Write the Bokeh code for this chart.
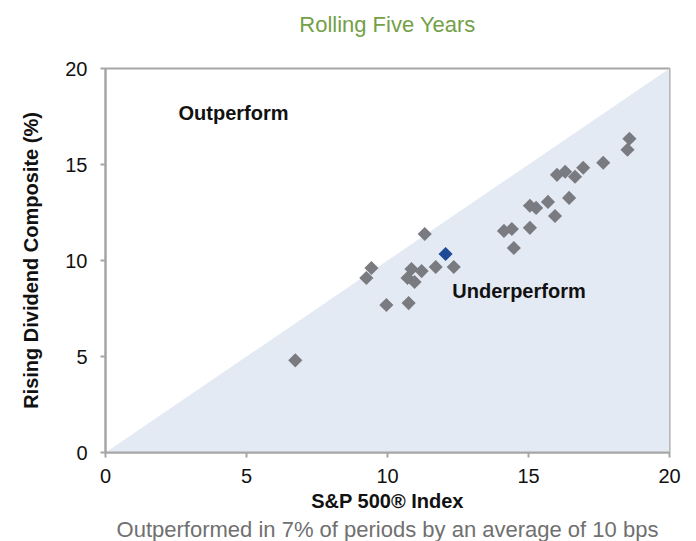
import math
from bokeh.plotting import figure
from bokeh.models import Label, Title, FixedTicker
from bokeh.embed import file_html
from bokeh.resources import INLINE

# S&P 500 rolling 5y return (x) vs Rising Dividend Composite (y), %
sp500 = [6.73, 9.25, 9.43, 9.96, 10.75, 10.71, 10.85, 10.96, 11.21, 11.32, 11.71, 12.35,
         14.13, 14.41, 14.48, 15.05, 15.05, 15.27, 15.69, 15.94, 16.01, 16.30, 16.44,
         16.65, 16.94, 17.65, 18.51, 18.58]
rising_div = [4.80, 9.09, 9.61, 7.68, 7.78, 9.09, 9.56, 8.88, 9.45, 11.38, 9.66, 9.66,
              11.54, 11.64, 10.65, 11.70, 12.85, 12.74, 13.05, 12.32, 14.46, 14.62, 13.26,
              14.36, 14.83, 15.09, 15.77, 16.34]
latest_x = [12.06]
latest_y = [10.34]

axis_min, axis_max = 0, 20
ticks = [0, 5, 10, 15, 20]

FONT = "Liberation Sans"

p = figure(width=696, height=541, x_range=(axis_min, axis_max), y_range=(axis_min, axis_max),
           output_backend="svg", toolbar_location=None,
           min_border_left=105, min_border_right=27, min_border_top=68, min_border_bottom=89)

p.title.text = "Rolling Five Years"
p.title.align = "center"
p.title.text_color = "#74A047"
p.title.text_font = FONT
p.title.text_font_size = "22px"
p.title.text_font_style = "normal"
p.title.standoff = 8
p.title.padding = (0, 0, 0, 28)

p.add_layout(Title(text="Outperformed in 7% of periods by an average of 10 bps",
                   align="center", text_color="#707070", text_font=FONT,
                   text_font_size="22px", text_font_style="normal", standoff=0), "below")

# underperform region (below diagonal)
p.patch([axis_min, axis_max, axis_max], [axis_min, axis_min, axis_max],
        fill_color="#E4EAF4", line_color=None)

p.scatter(sp500, rising_div, marker="square", size=10, angle=math.pi / 4,
          fill_color="#797B80", line_color=None)
p.scatter(latest_x, latest_y, marker="square", size=10, angle=math.pi / 4,
          fill_color="#1F4A96", line_color=None)

p.add_layout(Label(x=2.59, y=17.7, text="Outperform", text_font=FONT, text_font_size="20px",
                   text_font_style="bold", text_color="#111111", text_baseline="middle"))
p.add_layout(Label(x=12.3, y=8.39, text="Underperform", text_font=FONT, text_font_size="20px",
                   text_font_style="bold", text_color="#111111", text_baseline="middle"))

for ax in (p.xaxis[0], p.yaxis[0]):
    ax.ticker = FixedTicker(ticks=ticks)
    ax.minor_tick_line_color = None
    ax.major_tick_in = 0
    ax.major_tick_out = 5
    ax.major_tick_line_color = "#A6A6A6"
    ax.major_tick_line_width = 2
    ax.axis_line_color = "#A6A6A6"
    ax.axis_line_width = 2
    ax.major_label_text_font = FONT
    ax.major_label_text_font_size = "20px"
    ax.major_label_text_color = "#111111"
    ax.axis_label_text_font = FONT
    ax.axis_label_text_font_size = "20px"
    ax.axis_label_text_font_style = "bold"
    ax.axis_label_text_color = "#111111"

p.xaxis.axis_label = "S&P 500® Index"
p.yaxis.axis_label = "Rising Dividend Composite (%)"
p.xaxis.axis_label_standoff = 4
p.yaxis.axis_label_standoff = 20
p.xaxis.major_label_standoff = 11
p.yaxis.major_label_standoff = 13

p.xgrid.grid_line_color = None
p.ygrid.grid_line_color = None
p.outline_line_color = "#A6A6A6"
p.outline_line_width = 2
p.background_fill_color = "white"
p.border_fill_color = "white"

open("out.html", "w").write(file_html(p, INLINE))
